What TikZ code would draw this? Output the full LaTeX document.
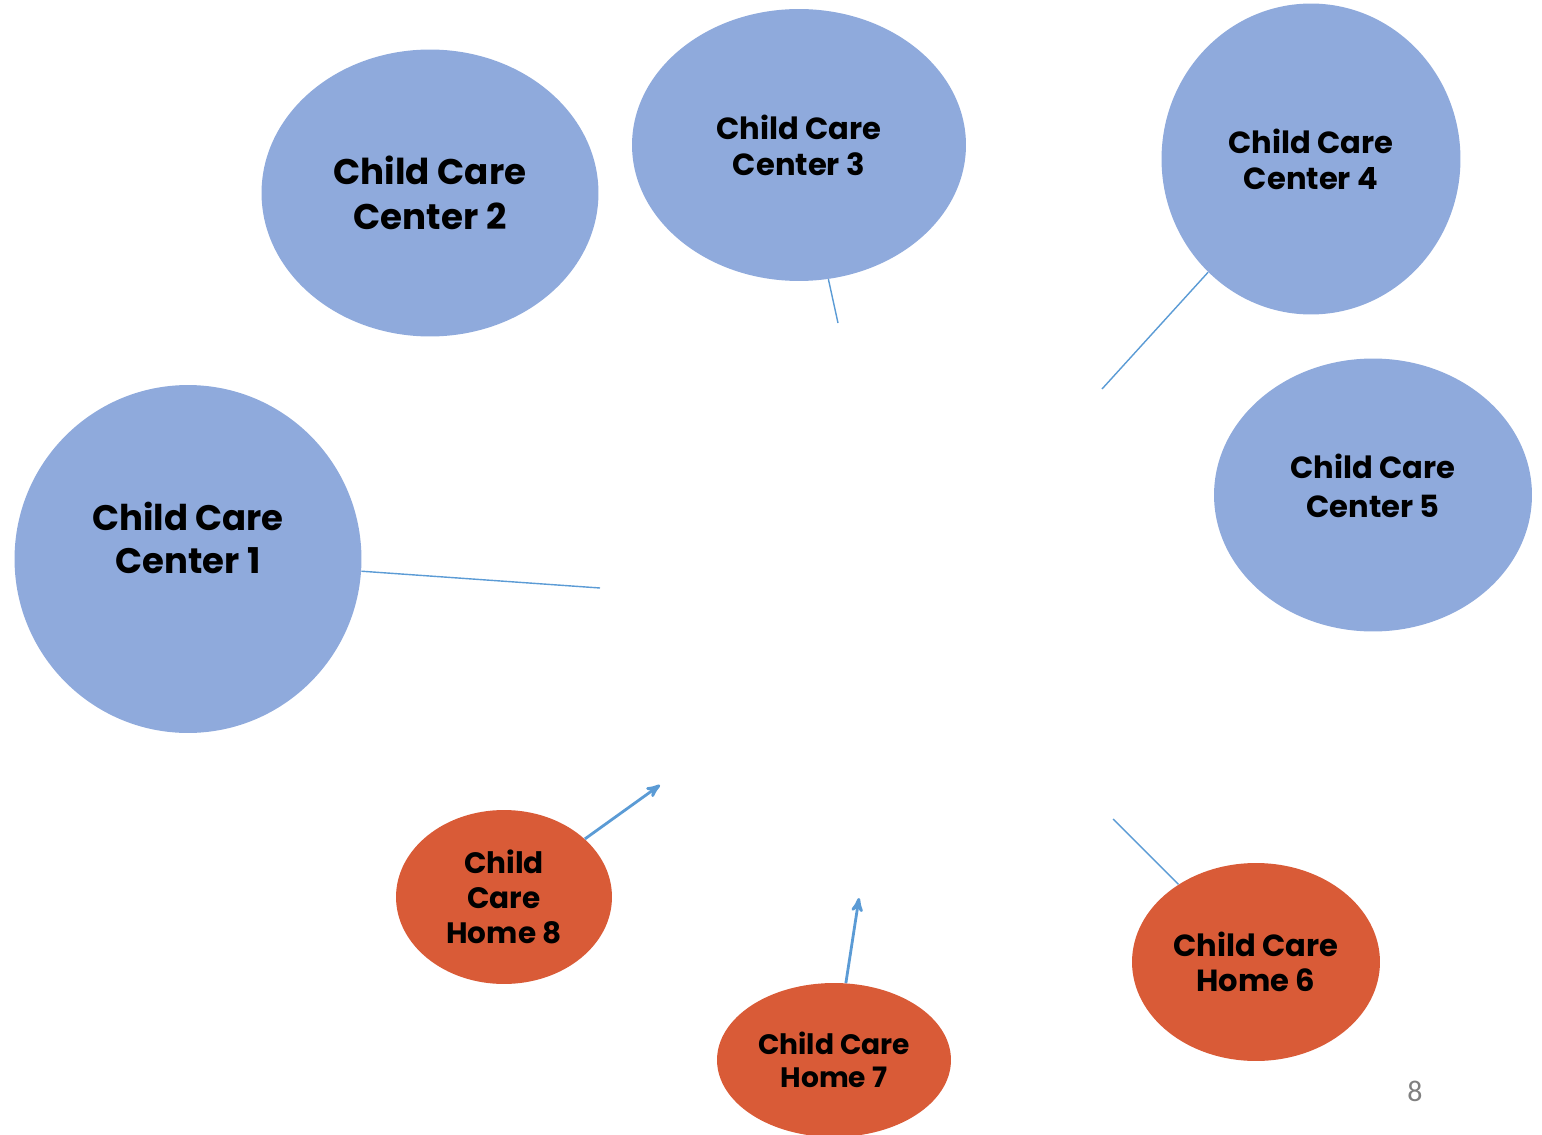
\documentclass[tikz,border=0pt]{standalone}
\usepackage{fontspec}
\setmainfont{Poppins}
\newfontfamily\pagefont{Carlito}
\usepackage{xcolor}
\usetikzlibrary{arrows,shapes.geometric}
\definecolor{centerblue}{HTML}{8FAADC}
\definecolor{homeorange}{HTML}{D95B37}
\definecolor{linkblue}{HTML}{5B9BD5}

\begin{document}
\begin{tikzpicture}[
    x=0.02cm, y=-0.02cm,
    >=stealth',
    font=\bfseries,
    center/.style={
		ellipse,
		fill=centerblue,
		inner sep=0pt,
		align=center
	},
	home/.style={
		ellipse,
		fill=homeorange,
		inner sep=0pt,
		align=center
	},
	link/.style={
		draw=linkblue,
		line width=0.8pt
	},
	arrowlink/.style={
		draw=linkblue,
		line width=1.6pt,
		->
	}
  ]
  \useasboundingbox (0,0) rectangle (1542,1135);
    % We start by placing the centers

  \node [center, minimum width=6.94cm, minimum height=6.96cm,
         label={[align=center, yshift=0.42cm, font=\bfseries\fontsize{20.2}{24.5}\selectfont]center:Child Care\\ Center 1}] (cc1) at (188,559) {};

  \node [center, minimum width=6.74cm, minimum height=5.74cm, font=\bfseries\fontsize{20.3}{26}\selectfont] (cc2) at (430,193)
  {Child Care\\ Center 2};

  \node [center, minimum width=6.68cm, minimum height=5.44cm, font=\bfseries\fontsize{17.4}{20.5}\selectfont] (cc3) at (799,145)
  {Child Care\\ Center 3};

  \node [center, minimum width=5.98cm, minimum height=6.22cm, font=\bfseries\fontsize{17.4}{20.5}\selectfont] (cc4) at (1311,159)
  {Child Care\\ Center 4};

  \node [center, minimum width=6.36cm, minimum height=5.46cm,
         label={[align=center, yshift=0.18cm, font=\bfseries\fontsize{17.4}{22}\selectfont]center:Child Care\\ Center 5}] (cc5) at (1373,495) {};

    % then the homes

  \node [home, minimum width=4.96cm, minimum height=3.96cm, font=\bfseries\fontsize{17.4}{20}\selectfont] (ch6) at (1256,962)
  {Child Care\\ Home 6};

  \node [home, minimum width=4.68cm, minimum height=3.08cm, font=\bfseries\fontsize{16}{18.7}\selectfont] (ch7) at (834,1060)
  {Child Care\\ Home 7};

  \node [home, minimum width=4.32cm, minimum height=3.48cm, font=\bfseries\fontsize{16.8}{19.8}\selectfont] (ch8) at (504,897)
  {Child\\ Care\\ Home 8};

  \node [text=gray, font=\pagefont\fontsize{17}{20}\selectfont] (page) at (1415,1091) {8};

    % loose ends of the links
  \coordinate (end1) at (600,588);
  \coordinate (end3) at (838,323);
  \coordinate (end4) at (1102,389);
  \coordinate (end6) at (1113,819);
  \coordinate (end7) at (859,898);
  \coordinate (end8) at (660,785);

  \draw [link] (cc1) -- (end1);
  \draw [link] (cc3) -- (end3);
  \draw [link] (cc4) -- (end4);
  \draw [link] (ch6) -- (end6);
  \draw [arrowlink] (ch7) -- (end7);
  \draw [arrowlink] (ch8) -- (end8);

\end{tikzpicture}
\end{document}
